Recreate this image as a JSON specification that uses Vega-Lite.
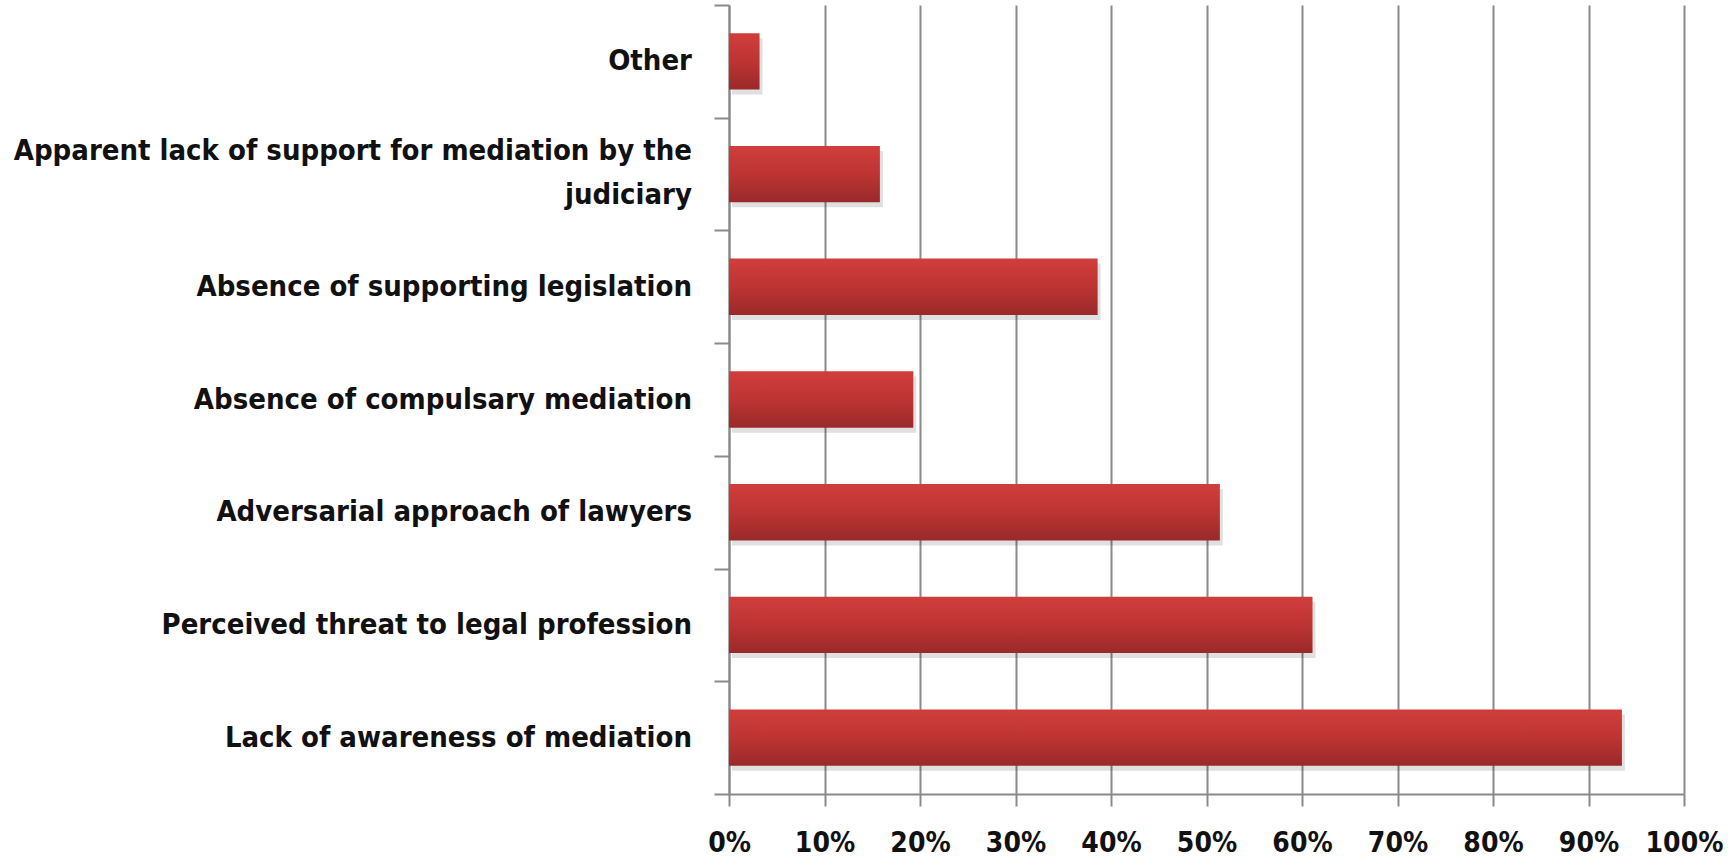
{
  "$schema": "https://vega.github.io/schema/vega-lite/v6.json",
  "width": 955,
  "height": 789,
  "autosize": "none",
  "padding": {"left": 729, "top": 5, "right": 45, "bottom": 63},
  "background": "white",
  "data": {
    "values": [
      {"reason": "Other", "share": 0.032},
      {"reason": "Apparent lack of support for mediation by the|judiciary", "share": 0.158},
      {"reason": "Absence of supporting legislation", "share": 0.386},
      {"reason": "Absence of compulsary mediation", "share": 0.193},
      {"reason": "Adversarial approach of lawyers", "share": 0.514},
      {"reason": "Perceived threat to legal profession", "share": 0.611},
      {"reason": "Lack of awareness of mediation", "share": 0.935}
    ]
  },
  "encoding": {
    "y": {
      "field": "reason",
      "type": "nominal",
      "sort": null,
      "scale": {"paddingInner": 0, "paddingOuter": 0},
      "axis": {
        "title": null,
        "labels": false,
        "tickBand": "extent",
        "tickSize": 15,
        "tickColor": "#8a8a8a",
        "tickWidth": 2,
        "domainColor": "#8a8a8a",
        "domainWidth": 2,
        "grid": false
      }
    },
    "x": {
      "field": "share",
      "type": "quantitative",
      "scale": {"domain": [0, 1], "nice": false},
      "axis": {
        "title": null,
        "format": ".0%",
        "values": [0, 0.1, 0.2, 0.3, 0.4, 0.5, 0.6, 0.7, 0.8, 0.9, 1],
        "labelOverlap": false,
        "labelAlign": "center",
        "labelFont": "DejaVu Sans Condensed",
        "labelFontWeight": "bold",
        "labelFontSize": 28,
        "labelColor": "#111111",
        "labelPadding": 23,
        "tickSize": 12,
        "tickColor": "#8a8a8a",
        "tickWidth": 2,
        "domainColor": "#8a8a8a",
        "domainWidth": 2,
        "grid": true,
        "gridColor": "#8a8a8a",
        "gridWidth": 2
      }
    }
  },
  "layer": [
    {
      "mark": {"type": "bar", "color": "#000000", "opacity": 0.12, "xOffset": 3, "yOffset": 5, "height": {"band": 0.5}},
      "encoding": {}
    },
    {
      "mark": {
        "type": "bar",
        "height": {"band": 0.5},
        "color": {
          "gradient": "linear",
          "x1": 0, "y1": 0, "x2": 0, "y2": 1,
          "stops": [
            {"offset": 0, "color": "#d03e3b"},
            {"offset": 0.5, "color": "#bd3433"},
            {"offset": 1, "color": "#9a292a"}
          ]
        }
      },
      "encoding": {}
    },
    {
      "transform": [{"filter": "indexof(datum.reason, '|') < 0"}],
      "mark": {"type": "text", "align": "right", "baseline": "middle", "dx": -37, "font": "DejaVu Sans Condensed", "fontWeight": "bold", "fontSize": 29, "color": "#111111"},
      "encoding": {"x": {"datum": 0, "type": "quantitative"}, "text": {"field": "reason"}}
    },
    {
      "transform": [{"filter": "indexof(datum.reason, '|') >= 0"}],
      "mark": {"type": "text", "align": "right", "baseline": "line-bottom", "lineBreak": "|", "lineHeight": 44, "dx": -37, "font": "DejaVu Sans Condensed", "fontWeight": "bold", "fontSize": 29, "color": "#111111"},
      "encoding": {"x": {"datum": 0, "type": "quantitative"}, "text": {"field": "reason"}}
    }
  ],
  "config": {"view": {"stroke": null}}
}
